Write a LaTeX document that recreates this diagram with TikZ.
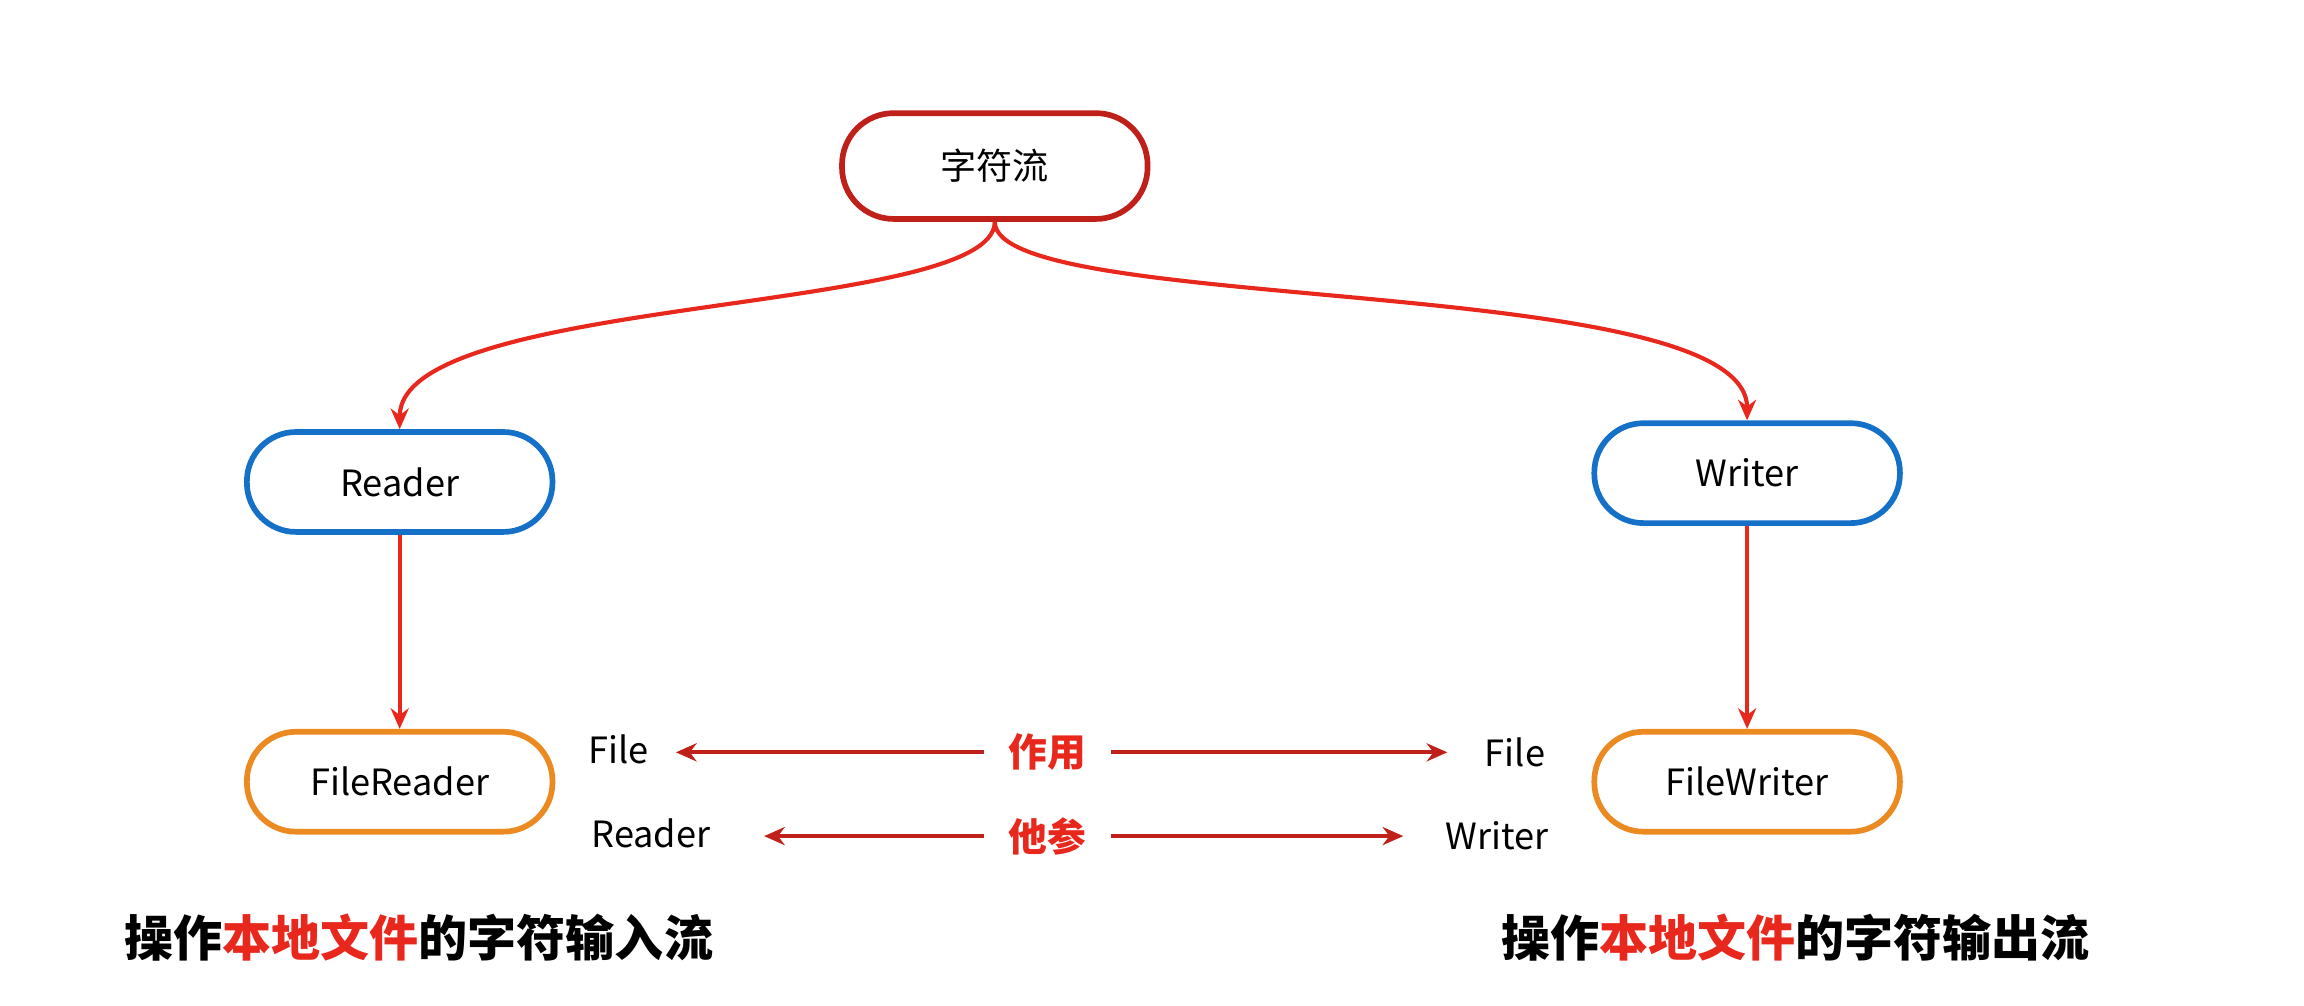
\documentclass[tikz,border=0pt]{standalone}
\usepackage{fontspec}
\setmainfont{Noto Sans CJK SC}
\usetikzlibrary{arrows.meta}
\definecolor{dred}{HTML}{C0201A}
\definecolor{ared}{HTML}{E8281C}
\definecolor{nblue}{HTML}{1570C8}
\definecolor{norange}{HTML}{EC8A22}
\begin{document}
\begin{tikzpicture}[x=0.02cm,y=-0.02cm,
  box/.style={rounded corners=19pt,line width=2.2pt,minimum width=4.16cm,minimum height=1.36cm,font=\fontsize{14}{16}\selectfont,fill=white},
  conn/.style={ared,line width=1.6pt,-{Stealth[length=8pt,width=7pt]}},
  lbl/.style={font=\fontsize{14}{16}\selectfont},
  mid/.style={font=\fontsize{15}{17}\selectfont\bfseries,text=ared},
  big/.style={font=\fontsize{19}{22}\selectfont\bfseries}]
\useasboundingbox (0,0) rectangle (1568,684);
\node[box,draw=dred,minimum height=1.44cm,rounded corners=20pt] (root) at (677,113) {字符流};
\node[box,draw=nblue] (rd) at (272,328) {Reader};
\node[box,draw=nblue] (wr) at (1189,322) {Writer};
\node[box,draw=norange] (frd) at (272,532) {FileReader};
\node[box,draw=norange] (fwr) at (1189,532) {FileWriter};
\draw[conn] (root.south) .. controls (677,215) and (272,200) .. (rd.north);
\draw[conn] (root.south) .. controls (677,215) and (1189,185) .. (wr.north);
\draw[conn] (rd) -- (frd);
\draw[conn] (wr) -- (fwr);
\node[lbl] (f1) at (421,510) {File};
\node[lbl] (r1) at (443,567) {Reader};
\node[lbl] (f2) at (1031,512) {File};
\node[lbl] (w2) at (1019,569) {Writer};
\node[mid] (zy) at (713,512) {作用};
\node[mid] (tc) at (713,569) {他参};
\coordinate (a1) at (460,512); \coordinate (a2) at (985,512);
\coordinate (b1) at (520,569); \coordinate (b2) at (955,569);
\draw[conn,dred] ([xshift=-6pt]zy.west) -- (a1);
\draw[conn,dred] ([xshift=6pt]zy.east) -- (a2);
\draw[conn,dred] ([xshift=-6pt]tc.west) -- (b1);
\draw[conn,dred] ([xshift=6pt]tc.east) -- (b2);
\node[big] (bl) at (285,638) {操作\textcolor{ared}{本地文件}的字符输入流};
\node[big] (br) at (1222,638) {操作\textcolor{ared}{本地文件}的字符输出流};
\end{tikzpicture}
\end{document}
